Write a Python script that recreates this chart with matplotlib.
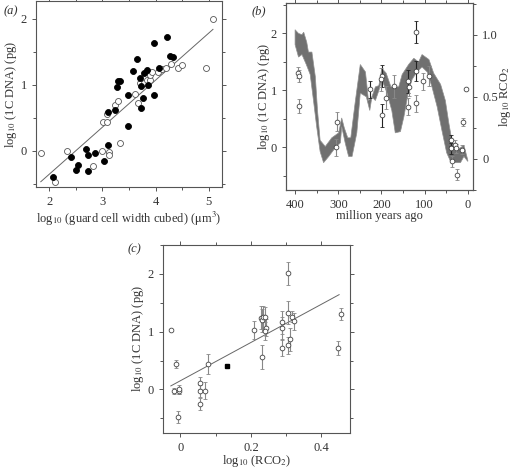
import numpy as np
import matplotlib
matplotlib.use('Agg')
import matplotlib.pyplot as plt
from matplotlib.ticker import MultipleLocator

plt.rcParams['font.family'] = ['Liberation Serif', 'DejaVu Serif']
plt.rcParams['mathtext.fontset'] = 'stix'
plt.rcParams['font.size'] = 9

# ---- panel (a): genome size vs guard cell size
a_open_x = [1.84, 2.11, 2.34, 2.83, 3.00, 3.12, 3.13, 3.33, 3.01, 3.08, 3.09, 3.24, 3.29,
            3.61, 3.67, 3.70, 3.78, 3.83, 3.89, 3.89, 3.93, 4.04, 4.13, 4.19, 4.29, 4.43,
            4.49, 4.95, 5.09]
a_open_y = [-0.03, -0.47, -0.01, -0.23, -0.01, -0.02, -0.06, 0.11, 0.44, 0.44, 0.56, 0.70, 0.76,
            0.86, 0.72, 1.02, 1.02, 1.07, 1.07, 1.15, 1.20, 1.19, 1.24, 1.25, 1.32, 1.25,
            1.30, 1.26, 2.00]
a_fill_x = [2.07, 2.40, 2.50, 2.54, 2.69, 2.72, 2.72, 2.86, 3.03, 3.11, 3.11, 3.24, 3.28,
            3.29, 3.34, 3.49, 3.49, 3.58, 3.65, 3.71, 3.73, 3.73, 3.76, 3.78, 3.83, 3.86,
            3.97, 3.97, 4.06, 4.22, 4.27, 4.32]
a_fill_y = [-0.40, -0.10, -0.29, -0.22, 0.03, -0.07, -0.31, -0.04, -0.16, 0.08, 0.59, 0.61, 0.96,
            1.06, 1.06, 0.85, 0.38, 1.21, 1.39, 1.10, 0.98, 0.65, 0.80, 1.18, 1.22, 1.00,
            1.64, 0.84, 1.26, 1.72, 1.44, 1.42]
a_fit_x = [1.84, 5.08]
a_fit_y = [-0.47, 1.84]

# ---- panel (b): genome size through time + RCO2 band
b_age = [394, 390, 390, 302, 305, 226, 199, 200, 199, 189, 170, 139, 136, 138, 121, 119,
         119, 104, 90, 39, 38, 37, 29, 28, 25, 14, 11, 4]
b_dna = [1.31, 1.25, 0.72, 0.45, 0.00, 1.02, 1.25, 1.19, 0.56, 0.87, 1.07, 1.16, 1.05, 0.71,
         2.02, 1.34, 0.77, 1.16, 1.25, 0.12, -0.02, -0.25, 0.04, -0.02, -0.48, -0.04, 0.44, 1.03]
b_err = [0.10, 0.10, 0.12, 0.17, 0.15, 0.15, 0.20, 0.20, 0.20, 0.20, 0.20, 0.20, 0.15, 0.15,
         0.20, 0.18, 0.15, 0.15, 0.17, 0.10, 0.10, 0.10, 0.08, 0.08, 0.10, 0.08, 0.07, 0.0]
b_dark = [0, 0, 0, 0, 0, 1, 1, 0, 1, 0, 0, 1, 0, 0, 1, 1, 0, 0, 0, 1, 1, 0, 0, 0, 0, 0, 0, 0]

band_up_age = [400, 392, 384, 380, 373, 369, 361, 353, 348, 342, 330, 315, 299, 292, 286, 278,
               271, 261, 249, 237, 230, 222, 214, 206, 199, 189, 178, 168, 160, 152, 137, 125,
               114, 106, 98, 90, 79, 63, 52, 44, 36, 29, 17, 9, 0]
band_up = [1.04, 1.01, 1.00, 1.02, 0.94, 0.86, 0.86, 0.66, 0.39, 0.15, 0.10, 0.17, 0.21, 0.33,
           0.25, 0.17, 0.17, 0.45, 0.76, 0.70, 0.47, 0.50, 0.58, 0.59, 0.73, 0.69, 0.58, 0.58,
           0.58, 0.68, 0.76, 0.81, 0.78, 0.84, 0.82, 0.80, 0.69, 0.60, 0.47, 0.29, 0.13, 0.07,
           0.09, 0.11, -0.01]
band_lo_age = [400, 392, 384, 374, 365, 357, 350, 342, 334, 322, 307, 295, 292, 284, 276, 268,
               257, 249, 235, 227, 222, 214, 206, 199, 187, 176, 168, 156, 148, 137, 129, 118,
               106, 94, 83, 71, 60, 49, 40, 29, 17, 9, 0]
band_lo = [0.92, 0.82, 0.84, 0.76, 0.68, 0.46, 0.26, 0.06, -0.03, 0.02, 0.09, 0.13, 0.26, 0.13,
           0.02, 0.02, 0.21, 0.53, 0.50, 0.39, 0.50, 0.47, 0.55, 0.64, 0.53, 0.39, 0.21, 0.22,
           0.34, 0.55, 0.64, 0.70, 0.74, 0.70, 0.58, 0.42, 0.23, 0.05, -0.02, -0.03, -0.03,
           0.02, -0.02]

# ---- panel (c): genome size vs RCO2
c_x = [-0.027, -0.013, -0.018, -0.005, -0.004, -0.006, 0.055, 0.055, 0.055, 0.071, 0.077,
       0.209, 0.230, 0.231, 0.233, 0.231, 0.240, 0.243, 0.240, 0.289, 0.289, 0.289, 0.304,
       0.304, 0.304, 0.312, 0.317, 0.323, 0.446, 0.455]
c_y = [1.03, 0.44, -0.03, -0.03, 0.00, -0.48, 0.11, -0.03, -0.25, -0.02, 0.44,
       1.03, 1.24, 1.20, 1.25, 0.56, 1.25, 1.07, 1.01, 1.16, 1.06, 0.72, 2.01,
       1.33, 0.76, 0.87, 1.26, 1.18, 0.72, 1.31]
c_err = [0.0, 0.07, 0.05, 0.05, 0.08, 0.10, 0.10, 0.10, 0.10, 0.15, 0.17,
         0.15, 0.20, 0.20, 0.20, 0.20, 0.17, 0.15, 0.15, 0.20, 0.20, 0.15, 0.20,
         0.20, 0.15, 0.20, 0.10, 0.15, 0.12, 0.10]
c_square = (0.131, 0.41)
c_fit_x = [-0.027, 0.45]
c_fit_y = [0.06, 1.64]

ink = '#333333'
grey = '#888888'
fs = 9


def style(ax, xmaj, xmin, ymaj, ymin):
    ax.xaxis.set_major_locator(MultipleLocator(xmaj))
    ax.xaxis.set_minor_locator(MultipleLocator(xmin))
    ax.yaxis.set_major_locator(MultipleLocator(ymaj))
    ax.yaxis.set_minor_locator(MultipleLocator(ymin))
    ax.tick_params(which='both', direction='out', top=True, right=True, colors='#555555',
                   labelcolor=ink, labelsize=fs, width=0.7)
    ax.tick_params(which='major', length=3)
    ax.tick_params(which='minor', length=2)
    for s in ax.spines.values():
        s.set_color('#555555')
        s.set_linewidth(0.8)


def zero_fmt(v, p):
    return '0' if abs(v) < 1e-9 else f'{v:.1f}'


fig = plt.figure(figsize=(5.18, 4.70), dpi=100)

# (a)
ax_a = fig.add_axes([36/518, 1 - 187/470, 186/518, 186/470])
ax_a.plot(a_fit_x, a_fit_y, color='#666666', lw=0.7)
ax_a.plot(a_open_x, a_open_y, 'o', ms=4.3, mfc='white', mec='#555555', mew=0.6)
ax_a.plot(a_fill_x, a_fill_y, 'o', ms=4.3, mfc='black', mec='black', mew=0.6)
ax_a.set_xlim(1.75, 5.25)
ax_a.set_ylim(-0.55, 2.27)
style(ax_a, 1, 0.5, 1, 0.5)
ax_a.set_xlabel(r'log$_{10}$ (guard cell width cubed) ($\mathrm{\mu}$m$^3$)', color=ink, fontsize=fs)
ax_a.set_ylabel(r'log$_{10}$ (1C DNA) (pg)', color=ink, fontsize=fs)
ax_a.xaxis.set_label_coords(0.5, -0.125)
ax_a.yaxis.set_label_coords(-0.094, 0.5)
fig.text(4/518, 1 - 11/470, '(a)', style='italic', color=ink, fontsize=fs, va='center')

# (b)
ax_b = fig.add_axes([286/518, 1 - 190/470, 187/518, 187/470])
ax_r = ax_b.twinx()
ax_r.fill(band_up_age + band_lo_age[::-1], band_up + band_lo[::-1],
          color='#707070', lw=0.5, ec='#909090')
ax_r.set_ylim(-0.25, 1.255)
ax_b.set_zorder(ax_r.get_zorder() + 1)
ax_b.patch.set_visible(False)
for age, v, e, d in zip(b_age, b_dna, b_err, b_dark):
    col = '#222222' if d else grey
    ax_b.errorbar(age, v, yerr=e if e > 0 else None, fmt='o', ms=3.4, mfc='white', mec='#444444',
                  mew=0.6, ecolor=col, elinewidth=0.8, capsize=1.6, capthick=0.7)
ax_b.set_xlim(421, -12)
ax_b.set_ylim(-0.75, 2.53)
style(ax_b, 100, 50, 1, 0.5)
ax_b.tick_params(which='both', right=False)
ax_r.yaxis.set_major_locator(MultipleLocator(0.5))
ax_r.yaxis.set_minor_locator(MultipleLocator(0.25))
ax_r.yaxis.set_major_formatter(plt.FuncFormatter(zero_fmt))
ax_r.tick_params(which='both', direction='out', colors='#555555', labelcolor=ink, labelsize=fs, width=0.7)
ax_r.tick_params(which='major', length=3)
ax_r.tick_params(which='minor', length=2)
for s in ax_r.spines.values():
    s.set_color('#555555')
    s.set_linewidth(0.8)
ax_b.set_xlabel('million years ago', color=ink, fontsize=fs)
ax_b.set_ylabel(r'log$_{10}$ (1C DNA) (pg)', color=ink, fontsize=fs)
ax_r.set_ylabel(r'log$_{10}$ RCO$_2$', color=ink, fontsize=fs)
ax_b.xaxis.set_label_coords(0.5, -0.108)
ax_b.yaxis.set_label_coords(-0.075, 0.5)
ax_r.yaxis.set_label_coords(1.13, 0.5)
fig.text(252/518, 1 - 11/470, '(b)', style='italic', color=ink, fontsize=fs, va='center')

# (c)
ax_c = fig.add_axes([162.7/518, 1 - 432.7/470, 187/518, 187.7/470])
ax_c.plot(c_fit_x, c_fit_y, color='#666666', lw=0.7)
for x, y, e in zip(c_x, c_y, c_err):
    ax_c.errorbar(x, y, yerr=e if e > 0 else None, fmt='o', ms=3.4, mfc='white', mec='#444444',
                  mew=0.6, ecolor=grey, elinewidth=0.8, capsize=1.6, capthick=0.7)
ax_c.plot([c_square[0]], [c_square[1]], 's', ms=3.2, color='black')
ax_c.set_xlim(-0.05, 0.48)
ax_c.set_ylim(-0.75, 2.5)
style(ax_c, 0.2, 0.1, 1, 0.5)
ax_c.xaxis.set_major_formatter(plt.FuncFormatter(zero_fmt))
ax_c.set_xlabel(r'log$_{10}$ (RCO$_2$)', color=ink, fontsize=fs)
ax_c.set_ylabel(r'log$_{10}$ (1C DNA) (pg)', color=ink, fontsize=fs)
ax_c.xaxis.set_label_coords(0.5, -0.11)
ax_c.yaxis.set_label_coords(-0.089, 0.5)
fig.text(128/518, 1 - 249/470, '(c)', style='italic', color=ink, fontsize=fs, va='center')

fig.savefig('out.png', dpi=100)
